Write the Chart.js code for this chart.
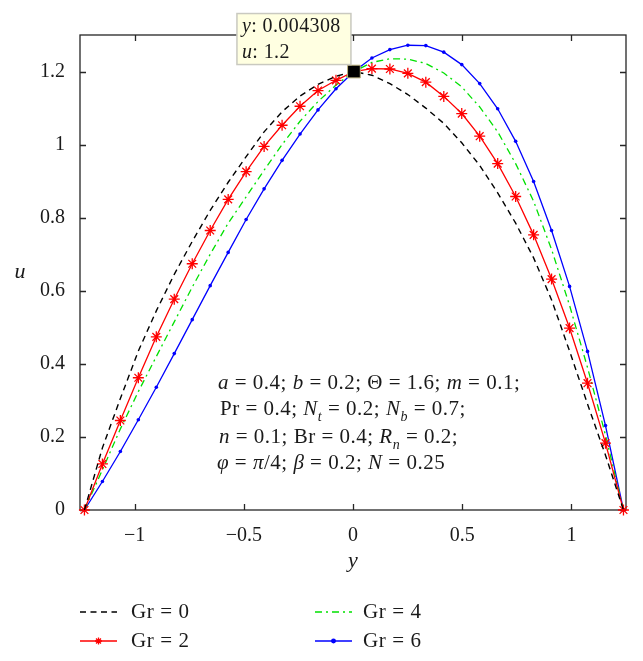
<!DOCTYPE html>
<html>
<head>
<meta charset="utf-8">
<script src="https://cdn.jsdelivr.net/npm/chart.js@4.4.0/dist/chart.umd.min.js"></script>
<style>
body{margin:0;background:#fff;}
canvas{display:block;}
</style>
</head>
<body>
<canvas id="myChart" width="643" height="661"></canvas>
<script>
// channel coordinate y (same grid for every curve)
var yPos=[-1.2297,-1.1474,-1.0652,-0.9829,-0.9006,-0.8184,-0.7361,-0.6538,-0.5715,-0.4893,-0.4070,
  -0.3247,-0.2425,-0.1602,-0.0779,0.0043,0.0866,0.1689,0.2511,0.3334,0.4157,0.4979,0.5802,0.6625,
  0.7448,0.8270,0.9093,0.9916,1.0738,1.1561,1.2384];
// velocity u for each Grashof number
var uGr0=[0,0.17,0.305,0.435,0.545,0.645,0.735,0.82,0.897,0.967,1.035,1.09,1.133,1.165,1.187,1.2,
  1.19,1.167,1.137,1.1,1.058,1.005,0.943,0.868,0.785,0.69,0.575,0.435,0.29,0.15,0];
var uGr2=[0,0.126,0.245,0.362,0.474,0.577,0.674,0.765,0.850,0.926,0.995,1.053,1.105,1.148,1.176,1.2,
  1.208,1.207,1.195,1.171,1.132,1.085,1.023,0.948,0.858,0.753,0.632,0.498,0.347,0.183,0];
var uGr4=[0,0.11,0.222,0.324,0.42,0.515,0.61,0.70,0.785,0.857,0.93,1.0,1.064,1.118,1.163,1.2,
  1.225,1.235,1.234,1.222,1.196,1.158,1.103,1.035,0.948,0.845,0.713,0.56,0.39,0.205,0];
var uGr6=[0,0.078,0.160,0.247,0.336,0.428,0.521,0.614,0.705,0.795,0.879,0.957,1.029,1.095,1.153,1.2,
  1.237,1.260,1.272,1.271,1.253,1.219,1.167,1.098,1.009,0.899,0.765,0.612,0.434,0.231,0];
var grLabels=['Gr = 0','Gr = 2','Gr = 4','Gr = 6'];
var xTicks=[-1,-0.5,0,0.5,1];
var uTicks=[0,0.2,0.4,0.6,0.8,1,1.2];
// data tip
var tipY=0.004308, tipU=1.2;

var SERIF='"Liberation Serif", "DejaVu Serif", serif';

function pts(us){
  return us.map(function(u,i){ return {x:yPos[i], y:u}; });
}
function fmt(v){
  var s=String(Math.round(Math.abs(v)*100)/100);
  return v<0 ? '\u2212'+s : s;
}

// draws a line of mixed roman / italic / subscript text
function richLine(ctx,x,y,segs,size){
  segs.forEach(function(s){
    var fs=s[2]?Math.round(size*0.68):size;
    ctx.font=(s[1]?'italic ':'')+fs+'px '+SERIF;
    ctx.fillText(s[0],x,s[2]?y+size*0.28:y);
    x+=ctx.measureText(s[0]).width;
  });
}

var decor={
  id:'decor',
  beforeDatasetsDraw:function(chart){
    var a=chart.chartArea, ctx=chart.ctx, xs=chart.scales.x, ys=chart.scales.y;
    ctx.save();
    ctx.strokeStyle='#262626';
    ctx.lineWidth=1.3;
    ctx.strokeRect(a.left,a.top,a.right-a.left,a.bottom-a.top);
    ctx.beginPath();
    xTicks.forEach(function(v){
      var p=Math.round(xs.getPixelForValue(v))+0.5;
      ctx.moveTo(p,a.bottom); ctx.lineTo(p,a.bottom-6);
      ctx.moveTo(p,a.top); ctx.lineTo(p,a.top+6);
    });
    uTicks.forEach(function(v){
      var p=Math.round(ys.getPixelForValue(v))+0.5;
      ctx.moveTo(a.left,p); ctx.lineTo(a.left+6,p);
      ctx.moveTo(a.right,p); ctx.lineTo(a.right-6,p);
    });
    ctx.stroke();
    ctx.restore();
  },
  afterDraw:function(chart){
    var a=chart.chartArea, ctx=chart.ctx, xs=chart.scales.x, ys=chart.scales.y;
    ctx.save();
    ctx.fillStyle='#1a1a1a';
    ctx.textBaseline='middle';
    ctx.textAlign='center';
    ctx.font='italic 22px '+SERIF;
    ctx.fillText('u',20,272);
    ctx.fillText('y',(a.left+a.right)/2,561);

    // parameter block
    ctx.textAlign='left';
    ctx.textBaseline='alphabetic';
    ctx.letterSpacing='0.5px';
    var R=0, I=1;
    richLine(ctx,218,389,[['a',I],[' = 0.4; ',R],['b',I],[' = 0.2; \u0398 = 1.6; ',R],['m',I],[' = 0.1;',R]],21);
    richLine(ctx,220,415,[['Pr = 0.4; ',R],['N',I],['t',I,1],[' = 0.2; ',R],['N',I],['b',I,1],[' = 0.7;',R]],21);
    richLine(ctx,219,443,[['n',I],[' = 0.1; Br = 0.4; ',R],['R',I],['n',I,1],[' = 0.2;',R]],21);
    richLine(ctx,217,469,[['\u03C6',I],[' = ',R],['\u03C0',I],['/4; ',R],['\u03B2',I],[' = 0.2; ',R],['N',I],[' = 0.25',R]],21);

    // data tip box
    var mx=xs.getPixelForValue(tipY), my=ys.getPixelForValue(tipU);
    var bx=mx-117, by=my-58;
    ctx.fillStyle='rgb(255,255,225)';
    ctx.fillRect(bx,by,114,51);
    ctx.strokeStyle='#c9c9c0';
    ctx.lineWidth=1.5;
    ctx.strokeRect(bx,by,114,51);
    ctx.fillStyle='#1a1a1a';
    ctx.letterSpacing='0.4px';
    richLine(ctx,bx+5,by+18,[['y',I],[': '+tipY,R]],20);
    richLine(ctx,bx+5,by+44,[['u',I],[': '+tipU,R]],20);

    // legend, two columns
    var cols=[[80,131],[315,363]], rows=[612,641];
    var sets=chart.data.datasets.filter(function(d){ return d.label; });
    sets.forEach(function(d,i){
      var c=cols[Math.floor(i/2)], y=rows[i%2];
      ctx.save();
      ctx.letterSpacing='0px';
      ctx.strokeStyle=d.borderColor;
      ctx.lineWidth=d.borderWidth;
      ctx.setLineDash(d.borderDash||[]);
      ctx.beginPath(); ctx.moveTo(c[0],y); ctx.lineTo(c[0]+37,y); ctx.stroke();
      ctx.setLineDash([]);
      if(d.pointRadius>0){
        Chart.helpers.drawPoint(ctx,{pointStyle:d.pointStyle,rotation:0,borderWidth:d.pointBorderWidth||1,radius:d.pointStyle==='star'?3.5:d.pointRadius},c[0]+18.5,y);
        if(d.pointStyle==='circle'){ ctx.fillStyle=d.pointBackgroundColor; ctx.fill(); }
      }
      ctx.restore();
      ctx.fillStyle='#1a1a1a';
      ctx.textBaseline='middle';
      ctx.letterSpacing='0.6px';
      ctx.font='21px '+SERIF;
      ctx.fillText(d.label,c[1],y);
    });
    ctx.restore();
  }
};

var ctx=document.getElementById('myChart').getContext('2d');
var myChart=new Chart(ctx,{
  type:'line',
  data:{
    datasets:[
      {
        data:[{x:tipY,y:tipU}],
        showLine:false,
        pointStyle:'rect',
        pointRadius:9,
        pointBackgroundColor:'#000',
        pointBorderColor:'rgb(190,180,130)',
        pointBorderWidth:1,
        clip:false
      },
      {
        label:grLabels[0],
        data:pts(uGr0),
        borderColor:'#000',
        borderWidth:1.4,
        borderDash:[6,4.5],
        pointRadius:0,
        clip:false
      },
      {
        label:grLabels[1],
        data:pts(uGr2),
        borderColor:'#ff0000',
        borderWidth:1.3,
        pointStyle:'star',
        pointRadius:5.5,
        pointBorderColor:'#ff0000',
        pointBorderWidth:1.3,
        clip:false
      },
      {
        label:grLabels[2],
        data:pts(uGr4),
        borderColor:'rgb(0,225,0)',
        borderWidth:1.3,
        borderDash:[7,4,2,4],
        pointRadius:0,
        clip:false
      },
      {
        label:grLabels[3],
        data:pts(uGr6),
        borderColor:'#0000ff',
        borderWidth:1.3,
        pointStyle:'circle',
        pointRadius:1.8,
        pointBackgroundColor:'#0000ff',
        pointBorderColor:'#0000ff',
        pointBorderWidth:0,
        clip:false
      }
    ]
  },
  options:{
    responsive:false,
    animation:false,
    events:[],
    layout:{padding:{left:0,right:17,top:35,bottom:0}},
    elements:{line:{tension:0}},
    plugins:{legend:{display:false},tooltip:{enabled:false}},
    scales:{
      x:{
        type:'linear',
        min:-1.25,
        max:1.25,
        grid:{display:false},
        border:{display:false},
        afterBuildTicks:function(s){ s.ticks=xTicks.map(function(v){ return {value:v}; }); },
        afterFit:function(s){ s.height=151; },
        ticks:{
          padding:6,
          color:'#1a1a1a',
          font:{family:SERIF,size:20},
          maxRotation:0,
          callback:function(v){ return fmt(v); }
        }
      },
      y:{
        type:'linear',
        min:0,
        max:1.3,
        grid:{display:false},
        border:{display:false},
        afterBuildTicks:function(s){ s.ticks=uTicks.map(function(v){ return {value:v}; }); },
        afterFit:function(s){ s.width=80; },
        ticks:{
          padding:7,
          color:'#1a1a1a',
          font:{family:SERIF,size:20},
          callback:function(v){ return fmt(v); }
        }
      }
    }
  },
  plugins:[decor]
});
</script>
</body>
</html>
